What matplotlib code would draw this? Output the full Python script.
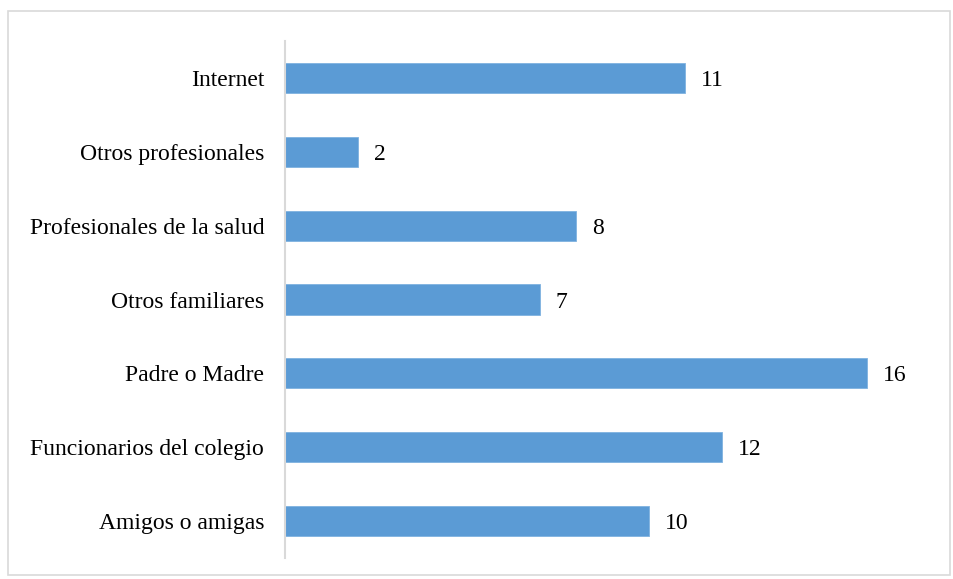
import matplotlib.pyplot as plt
from matplotlib.patches import Rectangle

categorias = ['Amigos o amigas', 'Funcionarios del colegio', 'Padre o Madre',
              'Otros familiares', 'Profesionales de la salud', 'Otros profesionales',
              'Internet']
valores = [10, 12, 16, 7, 8, 2, 11]

plt.rcParams['font.family'] = ['Liberation Serif', 'DejaVu Serif']

W, H = 954, 579
fig = plt.figure(figsize=(W / 100, H / 100), dpi=100)

# marco exterior
fig.patches.append(Rectangle((8 / W, 4 / H), (W - 12) / W, (H - 15) / H,
                             transform=fig.transFigure, fill=False,
                             edgecolor='#D9D9D9', linewidth=1.2))

ax = fig.add_axes([285 / W, (H - 558) / H, 650 / W, 517 / H])
y = range(len(categorias))
bars = ax.barh(y, valores, height=0.41, color='#5B9BD5', edgecolor='#7FB2E0', linewidth=0.6)

ax.set_xlim(0, 650 / 36.4)
ax.set_ylim(-0.5, len(categorias) - 0.5)
ax.set_yticks(list(y))
ax.set_yticklabels(categorias, fontsize=17)
ax.tick_params(axis='y', length=0, pad=15)
ax.set_xticks([])

for s in ['top', 'right', 'bottom']:
    ax.spines[s].set_visible(False)
ax.spines['left'].set_color('#D9D9D9')
ax.spines['left'].set_linewidth(1.5)

for b, v in zip(bars, valores):
    ax.annotate(str(v), (b.get_width(), b.get_y() + b.get_height() / 2),
                xytext=(16, 0), textcoords='offset pixels',
                va='center_baseline', ha='left', fontsize=17)

fig.savefig('out.png', dpi=100)
